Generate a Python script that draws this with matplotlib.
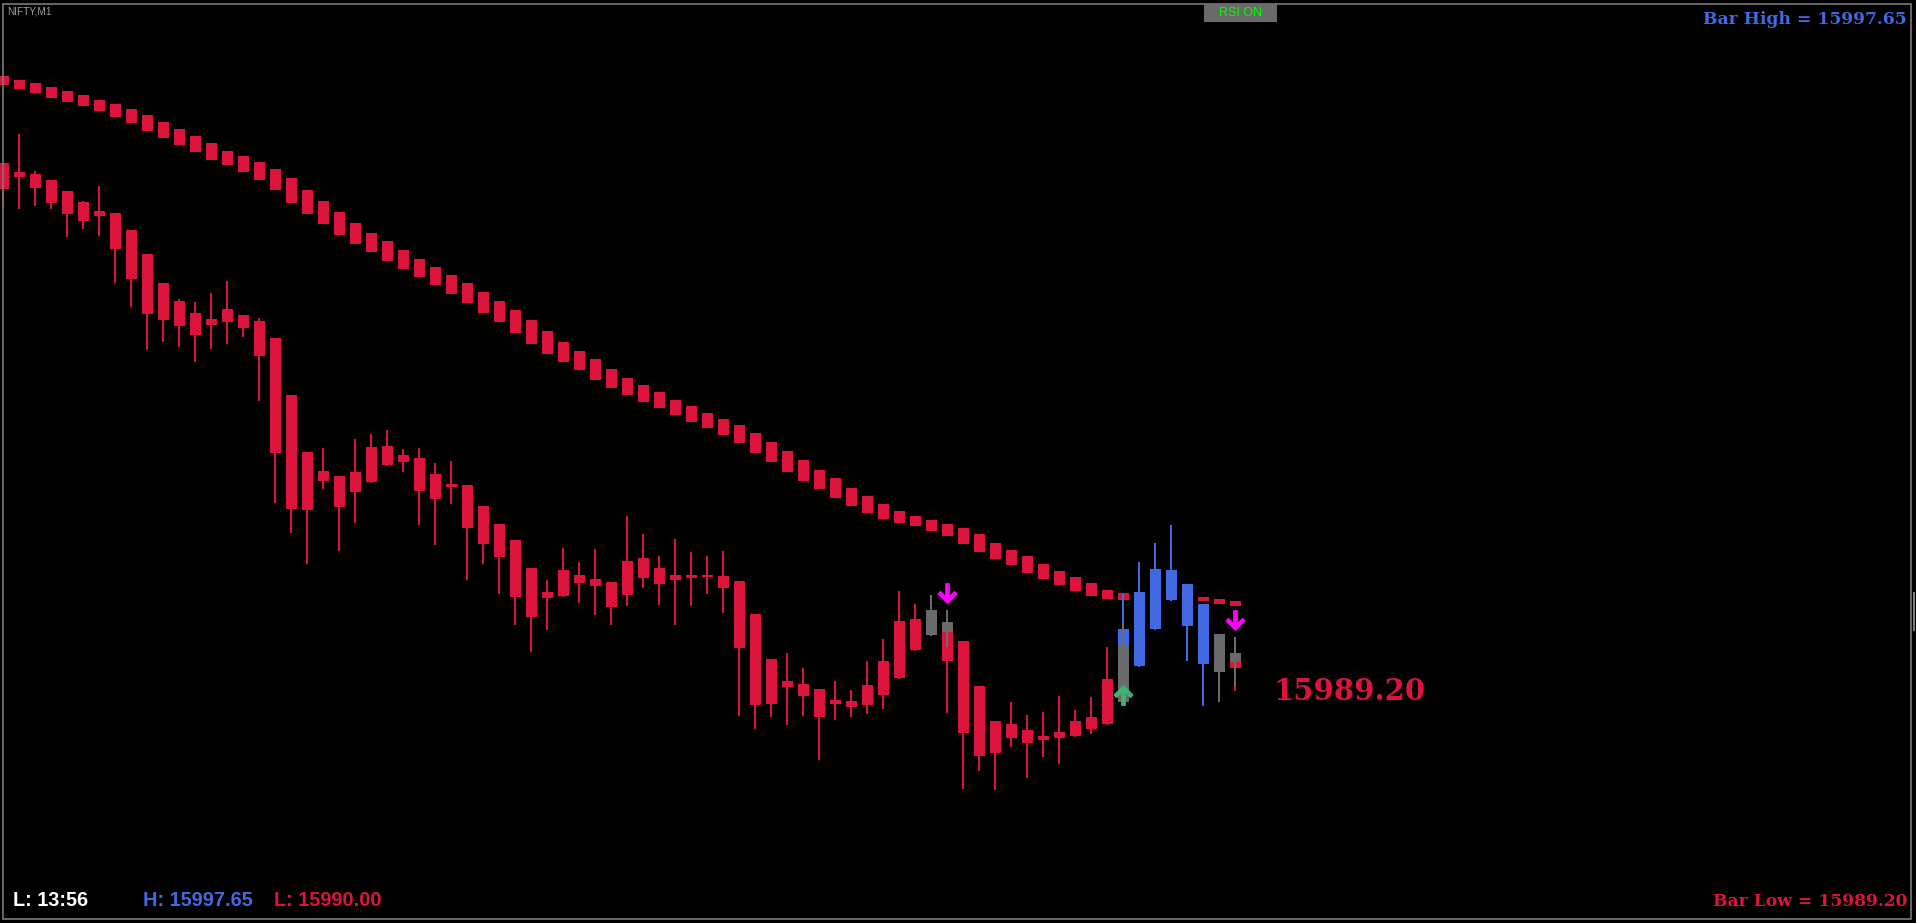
import numpy as np
import matplotlib
matplotlib.use("Agg")
import matplotlib.pyplot as plt
from matplotlib.patches import Rectangle
from matplotlib.path import Path

# NIFTY M1 - one-minute bars
symbol = "NIFTY,M1"
opens = [16043.70, 16042.83, 16042.60, 16042.00, 16040.90, 16039.80, 16038.90, 16038.70, 16037.00, 16034.60,
         16031.70, 16029.90, 16028.70, 16028.10, 16027.80, 16028.50, 16027.90, 16026.20, 16020.50, 16014.80,
         16012.90, 16012.40, 16012.80, 16015.30, 16015.40, 16014.50, 16014.20, 16012.60, 16011.60, 16011.50,
         16009.40, 16007.60, 16006.00, 16003.20, 16000.80, 16003.00, 16002.50, 16002.10, 16001.80, 16003.90,
         16004.20, 16003.20, 16002.50, 16002.50, 16002.50, 16002.40, 16001.90, 15998.60, 15994.10, 15991.90,
         15991.60, 15991.10, 15990.00, 15989.90, 15991.50, 15993.90, 15997.90, 15998.10, 15999.00, 15997.50,
         15995.90, 15991.40, 15987.90, 15987.60, 15987.00, 15986.40, 15986.80, 15987.90, 15988.30, 15992.10,
         15994.00, 15993.40, 15997.10, 16000.00, 16001.60, 15999.60, 15996.60, 15994.50]
highs = [16043.70, 16046.60, 16042.90, 16042.00, 16040.90, 16039.90, 16041.40, 16038.70, 16037.00, 16034.60,
         16031.70, 16030.10, 16029.80, 16030.70, 16031.90, 16028.50, 16028.20, 16026.20, 16020.50, 16014.80,
         16015.20, 16012.40, 16016.10, 16016.60, 16017.00, 16015.10, 16015.20, 16013.70, 16013.90, 16011.50,
         16009.40, 16007.60, 16006.00, 16003.20, 16002.00, 16005.20, 16003.80, 16005.10, 16001.80, 16008.40,
         16006.60, 16004.40, 16006.10, 16004.80, 16004.40, 16004.90, 16001.90, 15998.60, 15994.10, 15994.70,
         15993.20, 15991.10, 15991.90, 15991.00, 15993.90, 15996.10, 16000.90, 15999.60, 16000.50, 15997.50,
         15995.90, 15991.40, 15987.90, 15989.80, 15988.50, 15988.80, 15990.40, 15989.00, 15990.30, 15995.30,
         16000.60, 16003.80, 16005.70, 16007.50, 16001.60, 15999.60, 15996.60, 15994.50]
lows = [16039.30, 16039.10, 16039.40, 16039.10, 16036.30, 16037.10, 16036.40, 16031.70, 16029.30, 16025.00,
        16025.80, 16025.30, 16023.80, 16025.10, 16025.60, 16026.30, 16019.90, 16009.70, 16006.70, 16003.60,
        16011.10, 16004.90, 16007.70, 16011.70, 16013.40, 16012.80, 16007.50, 16005.50, 16009.60, 16002.00,
        16003.60, 16000.60, 15997.50, 15994.80, 15997.00, 16000.30, 15999.70, 15998.50, 15997.50, 15999.40,
        16001.20, 15999.50, 15997.50, 15999.40, 16000.60, 15998.70, 15988.40, 15987.10, 15988.30, 15987.50,
        15988.40, 15984.00, 15988.00, 15988.30, 15988.60, 15989.10, 15992.10, 15994.90, 15996.40, 15988.70,
        15981.10, 15982.90, 15981.00, 15985.30, 15982.20, 15984.30, 15983.60, 15986.30, 15986.60, 15987.50,
        15992.00, 15993.30, 15997.00, 15999.90, 15993.90, 15989.40, 15989.80, 15990.90]
closes = [16041.10, 16042.30, 16041.20, 16039.70, 16038.60, 16037.90, 16038.40, 16035.10, 16032.10, 16028.60,
          16028.00, 16027.40, 16026.50, 16027.50, 16029.10, 16027.20, 16024.40, 16014.70, 16009.10, 16009.00,
          16011.90, 16009.30, 16010.80, 16011.80, 16013.50, 16013.80, 16010.90, 16010.10, 16011.30, 16007.20,
          16005.60, 16004.30, 16000.30, 15998.30, 16000.20, 16000.40, 16001.70, 16001.40, 15999.30, 16000.50,
          16002.20, 16001.60, 16002.00, 16002.20, 16002.30, 16001.20, 15995.20, 15989.50, 15989.60, 15991.30,
          15990.40, 15988.30, 15989.60, 15989.30, 15989.50, 15990.50, 15992.20, 15995.00, 15996.50, 15993.90,
          15986.70, 15984.40, 15984.70, 15986.20, 15985.70, 15986.00, 15986.20, 15986.40, 15987.10, 15987.60,
          15997.10, 16000.80, 16003.10, 16003.00, 15997.40, 15993.60, 15992.80, 15993.20]
# r = below average, b = above average, g = neutral
bar_state = list("rrrrrrrrrrrrrrrrrrrrrrrrrrrrrrrrrrrrrrrrrrrrrrrrrrrrrrrrrrgrrrrrrrrrrrbbbbbbgr")

# second (neutral) candle layer drawn over a few bars
over_bars = [59, 70, 77]
over_open = [15997.80, 15995.50, 15994.70]
over_high = [15999.00, 15997.70, 15996.30]
over_low = [15995.30, 15989.60, 15991.40]
over_close = [15996.80, 15989.80, 15993.80]

# moving average
ma = [16051.95, 16051.57, 16051.20, 16050.77, 16050.35, 16049.92, 16049.45, 16048.95, 16048.40, 16047.70,
      16047.05, 16046.30, 16045.60, 16044.85, 16044.20, 16043.60, 16042.90, 16042.05, 16040.95, 16039.80,
      16038.75, 16037.65, 16036.65, 16035.75, 16034.90, 16034.05, 16033.20, 16032.40, 16031.55, 16030.70,
      16029.75, 16028.85, 16027.85, 16026.80, 16025.75, 16024.80, 16023.95, 16023.05, 16022.15, 16021.35,
      16020.65, 16019.95, 16019.25, 16018.60, 16017.95, 16017.30, 16016.60, 16015.70, 16014.80, 16013.85,
      16012.95, 16012.05, 16011.20, 16010.30, 16009.55, 16008.85, 16008.30, 16007.90, 16007.45, 16007.00,
      16006.40, 16005.70, 16004.90, 16004.25, 16003.55, 16002.85, 16002.20, 16001.60, 16001.05, 16000.60,
      16000.35]
ma_tail_bars = [75, 76, 77]
ma_tail = [16000.10, 15999.85, 15999.65]

sell_bars = [59, 77]
buy_bars = [70]

bar_high_txt = "15997.65"
bar_low_txt = "15989.20"
day_high_txt = "15997.65"
day_low_txt = "15990.00"
last_time = "13:56"

RED = "#DC143C"
BLUE = "#4169E1"
GRAY = "#6A6A6A"
col_map = {"r": RED, "b": BLUE, "g": GRAY}

W, H = 1916, 923
fig = plt.figure(figsize=(W / 100, H / 100), dpi=100, facecolor="black")
ax = fig.add_axes([0, 0, 1, 1])
ax.set_facecolor("black")
ax.set_xlim(-3.5 / 16, (W - 3.5) / 16)
ax.set_ylim(16060 - H / 10, 16060)
ax.axis("off")

body_w = 11 / 16
wick_lw = 1.44

x = np.arange(len(opens))
o = np.array(opens); c = np.array(closes)
hi = np.array(highs); lo = np.array(lows)
cols = [col_map[s] for s in bar_state]

# MA blocks
ma_arr = np.array(ma)
ma_x = np.arange(len(ma))
span = 2 * np.abs(np.gradient(ma_arr)) + 0.2
ax.bar(ma_x, span, bottom=ma_arr - span / 2, width=body_w, color=RED, linewidth=0, zorder=1)
ax.bar(ma_tail_bars, 0.45, bottom=np.array(ma_tail) - 0.225, width=body_w, color=RED, linewidth=0, zorder=1)

# candles
ax.vlines(x, lo, hi, colors=cols, linewidth=wick_lw, zorder=2)
bot = np.minimum(o, c)
top = np.maximum(o, c)
ax.bar(x, np.maximum(top - bot, 0.2), bottom=bot, width=body_w, color=cols, linewidth=0, zorder=3)

# overlay candles
ov_o = np.array(over_open); ov_c = np.array(over_close)
ax.vlines(over_bars, over_low, over_high, colors=GRAY, linewidth=wick_lw, zorder=4)
ax.bar(over_bars, np.abs(ov_o - ov_c), bottom=np.minimum(ov_o, ov_c), width=body_w,
       color=GRAY, linewidth=0, zorder=5)

# signal arrows
down = Path([(0, -1), (0.95, -0.05), (0.72, 0.2), (0.17, -0.38), (0.17, 1.0),
             (-0.17, 1.0), (-0.17, -0.38), (-0.72, 0.2), (-0.95, -0.05), (0, -1)],
            [Path.MOVETO] + [Path.LINETO] * 8 + [Path.CLOSEPOLY])
up = Path(down.vertices * [1, -1], down.codes)
sell_y = [max(highs[b], over_high[over_bars.index(b)] if b in over_bars else 0) + 1.75 for b in sell_bars]
ax.plot(sell_bars, sell_y, linestyle="none", marker=down, markersize=14,
        color="#FF00FF", zorder=6)
ax.plot(buy_bars, [over_low[over_bars.index(b)] + 0.95 for b in buy_bars], linestyle="none",
        marker=up, markersize=14, color="#3CB371", zorder=6)

# current bar low label
ax.text(79.35, lows[-1], bar_low_txt, color=RED, fontsize=21, fontweight="bold",
        family="DejaVu Serif", ha="left", va="center")

# window frame and labels
fig.patches.append(Rectangle((2.5 / W, 4 / H), (1911 - 2.5) / W, (919 - 4) / H,
                             transform=fig.transFigure, fill=False, edgecolor="#7a7a7a", linewidth=1.2))
fig.lines.append(plt.Line2D([1913.5 / W, 1913.5 / W], [1 - 593 / H, 1 - 630 / H],
                            transform=fig.transFigure, color="#7a7a7a", linewidth=1.5))
fig.text(7 / W, 1 - 11 / H, symbol, color="#a0a0a0", fontsize=7.2, ha="left", va="center",
         family="Liberation Sans")

fig.patches.append(Rectangle((1204 / W, 1 - 22 / H), 73 / W, 18 / H, transform=fig.transFigure,
                             facecolor=GRAY, edgecolor="none"))
fig.text(1240.5 / W, 1 - 13.5 / H, "RSI ON", color="#00FF00", fontsize=9, ha="center", va="center",
         family="Liberation Sans")

fig.text(1907 / W, 1 - 19 / H, "Bar High = " + bar_high_txt, color=BLUE, fontsize=12.3,
         fontweight="bold", family="DejaVu Serif", ha="right", va="center")
fig.text(1907 / W, 1 - 902 / H, "Bar Low = " + bar_low_txt, color=RED, fontsize=12.3,
         fontweight="bold", family="DejaVu Serif", ha="right", va="center")

fig.text(13 / W, 1 - 901 / H, "L: " + last_time, color="white", fontsize=14.3, fontweight="bold",
         family="Liberation Sans", ha="left", va="center")
fig.text(143 / W, 1 - 901 / H, "H: " + day_high_txt, color=BLUE, fontsize=14.3, fontweight="bold",
         family="Liberation Sans", ha="left", va="center")
fig.text(274 / W, 1 - 901 / H, "L: " + day_low_txt, color=RED, fontsize=14.3, fontweight="bold",
         family="Liberation Sans", ha="left", va="center")

fig.savefig("out.png", dpi=100, facecolor="black")
